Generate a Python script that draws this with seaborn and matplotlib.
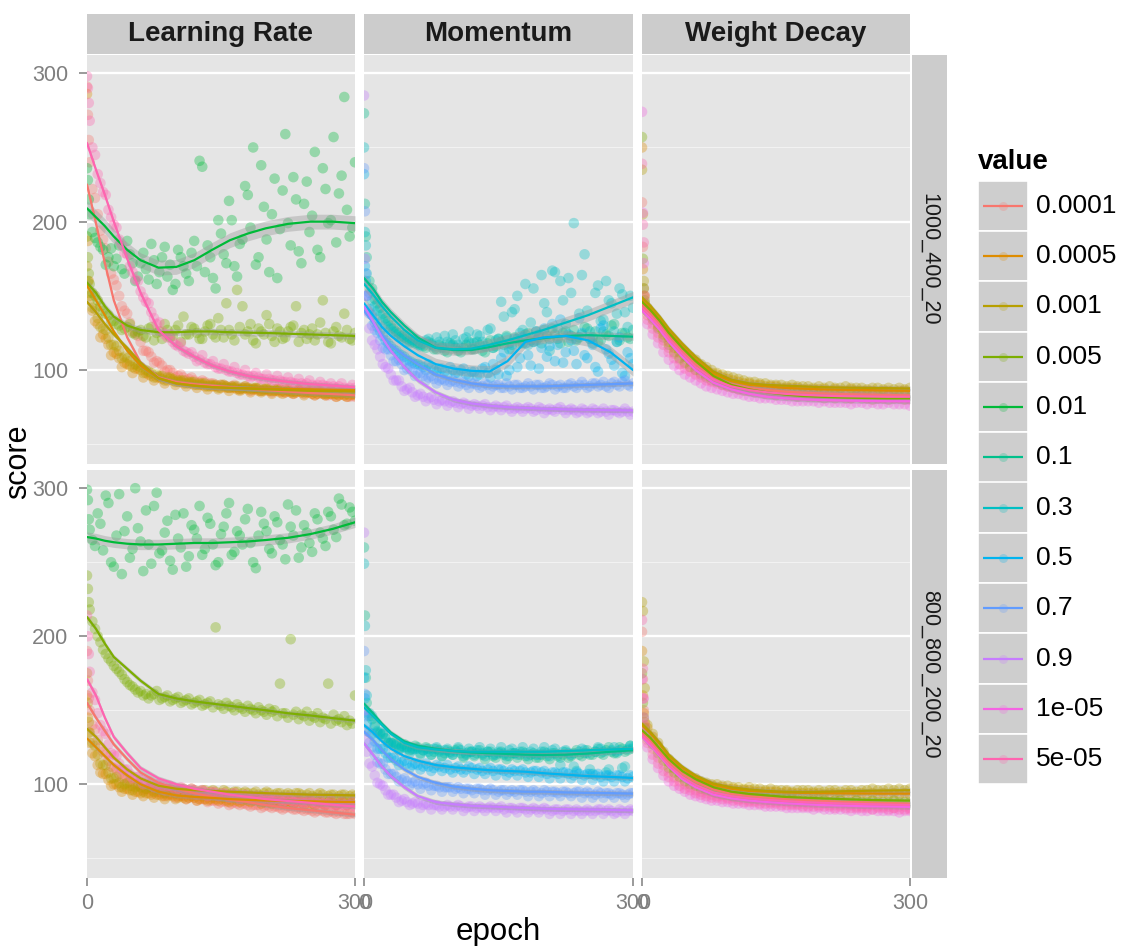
import numpy as np
import pandas as pd
import matplotlib
matplotlib.use("Agg")
import matplotlib.pyplot as plt
from matplotlib.patches import Rectangle
import seaborn as sns

# ---------------------------------------------------------------- data
PARAMS = ["Learning Rate", "Momentum", "Weight Decay"]
NETS = ["1000_400_20", "800_800_200_20"]

LEVELS = ["0.0001", "0.0005", "0.001", "0.005", "0.01", "0.1", "0.3",
          "0.5", "0.7", "0.9", "1e-05", "5e-05"]
COLORS = ["#F8766D", "#DE8C00", "#B79F00", "#7CAE00", "#00BA38", "#00C08B",
          "#00BFC4", "#00B4F0", "#619CFF", "#C77CFF", "#F564E3", "#FF64B0"]

# epochs at which scores were logged, plus the in-between logging epochs
EPOCHS = [0, 1, 2, 3] + list(range(6, 301, 6))
EXTRA_EPOCHS = list(range(9, 300, 6))
# epochs of the smoothed trend
FIT_EPOCHS = [0, 10, 20, 30, 45, 60, 80, 100, 120, 140, 160, 180, 200, 225, 250, 275, 300]

# ---- 1000_400_20 / Learning Rate
LR_A_POINTS = {
    "0.0001": [291, 272, 255, 240,
               222, 205, 188, 173, 161, 150, 140, 132, 125, 119,
               113, 109, 106, 103, 100, 98, 96, 95, 94, 93,
               92, 92, 91, 90, 90, 89, 89, 88, 88, 88,
               87, 87, 87, 86, 86, 86, 85, 85, 85, 85,
               85, 84, 84, 84, 83, 83, 83, 83, 82, 82],
    "0.0005": [286, 187, 160, 150,
               140, 131, 124, 117, 112, 108, 105, 103, 101, 100,
               98, 96, 95, 94, 93, 93, 92, 91, 91, 90,
               90, 89, 89, 89, 88, 88, 88, 87, 87, 87,
               87, 86, 86, 86, 86, 85, 85, 85, 85, 85,
               85, 84, 84, 84, 84, 84, 83, 83, 83, 83],
    "0.001": [170, 160, 152, 147,
              142, 135, 128, 122, 117, 113, 109, 106, 104, 102,
              100, 98, 97, 96, 95, 94, 93, 93, 92, 92,
              91, 91, 90, 90, 90, 89, 89, 89, 88, 88,
              88, 88, 87, 87, 87, 87, 87, 86, 86, 86,
              86, 86, 86, 85, 85, 85, 85, 85, 85, 84],
    "0.005": [190, 176, 165, 158,
              152, 147, 140, 137, 133, 130, 128, 131, 124, 127,
              122, 129, 125, 121, 127, 123, 130, 136, 124, 128,
              121, 126, 131, 122, 127, 145, 124, 154, 143, 126,
              120, 128, 124, 131, 119, 126, 122, 129, 143, 125,
              121, 128, 124, 147, 119, 126, 123, 138, 121, 125],
    "0.01": [236, 228, 215, 205,
             193, 186, 181, 176, 170, 184, 165, 178, 160, 172,
             168, 185, 158, 176, 163, 154, 181, 170, 160, 187,
             241, 166, 176, 155, 192, 172, 201, 163, 188, 218,
             250, 176, 210, 166, 229, 195, 259, 184, 215, 172,
             227, 204, 181, 236, 199, 257, 219, 284, 190, 240],
    "5e-05": [298, 290, 280, 268,
              250, 232, 220, 208, 198, 188, 179, 170, 161, 153,
              146, 139, 131, 126, 122, 119, 116, 113, 111, 109,
              107, 105, 104, 102, 101, 100, 99, 98, 97, 96,
              96, 95, 94, 94, 93, 93, 92, 92, 91, 91,
              91, 90, 90, 90, 89, 89, 89, 88, 88, 88],
}
LR_A_EXTRA = {
    "0.0001": [216, 194, 182, 165, 157, 143, 138, 126, 123,
               113, 112, 105, 105, 99, 100, 95, 97, 93, 95,
               91, 93, 90, 91, 89, 90, 88, 90, 87, 89,
               86, 88, 86, 87, 85, 87, 85, 86, 84, 86,
               84, 85, 83, 85, 83, 84, 82, 84, 82, 83],
    "0.0005": [133, 122, 121, 110, 111, 102, 104, 98, 101,
               95, 97, 93, 95, 91, 94, 90, 92, 89, 91,
               88, 90, 87, 89, 87, 89, 86, 88, 86, 88,
               85, 87, 85, 87, 84, 86, 84, 86, 84, 86,
               83, 85, 83, 85, 83, 84, 82, 84, 82, 84],
    "0.001": [141, 129, 127, 117, 116, 108, 108, 102, 103,
              98, 99, 95, 96, 93, 95, 92, 93, 91, 92,
              90, 91, 89, 90, 88, 90, 88, 89, 87, 89,
              87, 88, 86, 88, 86, 87, 86, 87, 85, 87,
              85, 86, 85, 86, 84, 86, 84, 85, 84, 85],
    "0.005": [150, 143, 138, 133, 131, 127, 129, 125, 126,
              123, 128, 120, 126, 131, 122, 127, 119, 124, 129,
              125, 121, 130, 124, 135, 122, 127, 120, 129, 124,
              131, 118, 126, 137, 123, 128, 121, 126, 130, 119,
              127, 124, 120, 132, 125, 118, 129, 122, 127, 120],
    "0.01": [189, 183, 171, 182, 175, 168, 187, 172, 163,
             179, 161, 174, 166, 183, 171, 158, 176, 165, 179,
             170, 237, 184, 162, 201, 178, 214, 170, 185, 224,
             196, 171, 238, 188, 205, 162, 221, 199, 230, 180,
             212, 193, 247, 176, 222, 201, 186, 231, 208, 196],
    "5e-05": [245, 226, 218, 203, 196, 184, 178, 166, 160,
              149, 145, 135, 132, 124, 124, 117, 118, 112, 112,
              106, 110, 104, 106, 101, 104, 99, 102, 97, 100,
              95, 98, 94, 97, 93, 96, 92, 95, 91, 94,
              90, 93, 89, 92, 89, 91, 88, 91, 87, 90],
}
LR_A_FIT = {
    "0.0001": [225, 199, 172, 147, 122, 105, 95, 92, 90.5, 89.5, 88.5, 87.5, 86.5, 85.5, 84.5, 83.8, 83],
    "0.0005": [157, 147, 137, 126, 113, 103, 94.5, 91, 89.5, 88.5, 88, 87.8, 87.5, 87.2, 87, 86.7, 86.5],
    "0.001": [146, 139, 131, 124, 115, 105, 94.5, 91, 89.5, 88.5, 88, 87.5, 87, 86.5, 86, 85.8, 85.5],
    "0.005": [159, 152, 143, 136, 130, 127, 125.5, 125.5, 126, 126, 125.5, 125.2, 125, 124.5, 124, 123.5, 123],
    "0.01": [209, 203, 197, 190, 181, 174, 169, 169.5, 174, 181, 187.5, 192, 195.5, 198.5, 200, 200, 199],
    "5e-05": [253, 235, 218, 200, 175, 152, 127, 116, 109, 103, 99, 96, 94, 92, 90.5, 89.5, 88.5],
}

# ---- 1000_400_20 / Momentum
MOM_A_POINTS = {
    "0.1": [273, 212, 190, 176,
            160, 148, 142, 135, 130, 126, 123, 121, 119, 118,
            116, 119, 114, 117, 113, 118, 115, 112, 117, 114,
            119, 113, 118, 115, 121, 117, 114, 122, 118, 124,
            120, 126, 118, 123, 128, 121, 125, 119, 127, 122,
            129, 121, 126, 120, 124, 130, 119, 125, 122, 127],
    "0.3": [250, 193, 184, 165,
            152, 143, 137, 131, 128, 124, 121, 119, 120, 117,
            118, 121, 116, 119, 123, 117, 120, 115, 122, 118,
            124, 119, 127, 115, 121, 136, 118, 141, 125, 158,
            132, 120, 164, 139, 167, 128, 147, 162, 199, 138,
            178, 126, 152, 133, 160, 145, 138, 151, 129, 142],
    "0.5": [232, 170, 160, 150,
            141, 132, 126, 120, 116, 113, 110, 107, 105, 104,
            102, 104, 100, 101, 99, 102, 98, 100, 97, 99,
            96, 101, 98, 104, 97, 112, 100, 121, 108, 118,
            103, 126, 115, 109, 131, 117, 105, 124, 113, 135,
            110, 121, 102, 128, 114, 107, 119, 98, 112, 104],
    "0.7": [236, 207, 165, 150,
            138, 127, 120, 114, 110, 106, 104, 101, 99, 98,
            96, 95, 94, 93, 93, 92, 92, 91, 90, 91,
            90, 89, 90, 89, 90, 88, 89, 90, 88, 89,
            89, 90, 88, 89, 90, 89, 88, 90, 89, 90,
            90, 89, 91, 90, 89, 91, 90, 92, 90, 91],
    "0.9": [285, 175, 150, 140,
            128, 117, 109, 102, 97, 93, 89, 87, 85, 83,
            82, 81, 80, 79, 79, 78, 78, 77, 77, 76,
            76, 76, 75, 75, 75, 75, 74, 74, 74, 74,
            74, 73, 74, 73, 73, 74, 73, 73, 73, 72,
            73, 72, 73, 72, 72, 73, 72, 72, 72, 72],
}
MOM_A_EXTRA = {
    "0.1": [155, 145, 138, 133, 128, 125, 122, 120, 118,
            117, 115, 118, 114, 116, 112, 117, 113, 115, 119,
            114, 117, 112, 120, 116, 119, 123, 117, 121, 118,
            125, 119, 122, 127, 121, 124, 118, 126, 123, 120,
            124, 128, 122, 119, 126, 123, 131, 120, 125, 121],
    "0.3": [147, 140, 134, 129, 126, 122, 124, 118, 121,
            116, 120, 117, 122, 115, 119, 124, 117, 121, 126,
            118, 123, 116, 128, 120, 146, 122, 139, 150, 127,
            117, 155, 124, 145, 113, 166, 160, 131, 152, 121,
            164, 140, 118, 157, 134, 147, 126, 155, 139, 150],
    "0.5": [137, 129, 123, 118, 114, 111, 109, 106, 104,
            103, 100, 102, 99, 101, 97, 100, 98, 101, 96,
            99, 97, 102, 95, 100, 108, 96, 114, 102, 122,
            110, 119, 101, 128, 116, 106, 134, 112, 120, 104,
            125, 108, 117, 99, 130, 111, 103, 122, 96, 108],
    "0.7": [130, 125, 115, 114, 106, 107, 100, 102, 96,
            98, 93, 96, 91, 94, 90, 93, 89, 92, 88,
            91, 88, 91, 87, 90, 88, 91, 87, 90, 88,
            91, 87, 90, 88, 91, 87, 90, 88, 91, 88,
            92, 88, 91, 89, 92, 88, 92, 89, 93, 89],
    "0.9": [120, 114, 104, 101, 93, 93, 86, 88, 82,
            84, 79, 82, 77, 80, 76, 79, 75, 78, 74,
            77, 74, 77, 73, 76, 73, 76, 72, 75, 72,
            75, 72, 75, 71, 74, 72, 75, 71, 74, 71,
            74, 71, 74, 71, 74, 70, 73, 71, 74, 70],
}
MOM_A_FIT = {
    "0.1": [162, 155, 146, 139, 130, 122, 115, 113.5, 113.5, 115.5, 118, 120, 121.5, 123, 123.5, 123, 122.5],
    "0.3": [158, 151, 143, 136, 127, 120, 115, 114, 114.5, 117, 120, 123.5, 127, 132, 137, 143, 149],
    "0.5": [145, 137, 129, 123, 116, 110, 104, 101, 99.5, 99, 106, 119, 122, 123, 120, 112, 100],
    "0.7": [140, 132, 124, 117, 110, 104, 97, 93.5, 91, 89.5, 89, 89, 89, 89.5, 90, 90.5, 91],
    "0.9": [143, 133, 122, 113, 102, 93, 85, 80, 77.5, 76, 75, 74.5, 74, 73.5, 73.2, 73, 72.8],
}

# ---- 1000_400_20 / Weight Decay
WD_A_POINTS = {
    "0.0001": [213, 183, 155, 145,
               137, 131, 125, 120, 115, 111, 107, 104, 102, 100,
               98, 96, 95, 93, 92, 91, 90, 89, 89, 88,
               88, 87, 87, 86, 86, 86, 85, 85, 85, 85,
               85, 84, 84, 84, 84, 84, 84, 83, 84, 83,
               83, 83, 84, 83, 83, 83, 82, 83, 83, 82],
    "0.0005": [250, 168, 150, 145,
               140, 135, 129, 124, 119, 115, 112, 109, 106, 104,
               102, 100, 98, 97, 95, 94, 93, 92, 91, 91,
               90, 90, 89, 89, 89, 88, 88, 88, 88, 87,
               87, 87, 87, 87, 86, 87, 86, 86, 87, 86,
               86, 86, 86, 85, 86, 86, 85, 86, 86, 85],
    "0.001": [235, 205, 160, 150,
              142, 137, 131, 126, 122, 118, 115, 112, 109, 107,
              104, 102, 100, 98, 97, 96, 95, 94, 93, 92,
              92, 91, 91, 90, 90, 90, 89, 90, 89, 89,
              89, 88, 89, 88, 89, 88, 88, 89, 88, 88,
              88, 87, 88, 88, 87, 88, 87, 88, 87, 88],
    "0.005": [257, 175, 155, 147,
              140, 134, 128, 122, 117, 112, 108, 105, 102, 100,
              97, 95, 93, 92, 90, 89, 88, 87, 86, 86,
              85, 85, 84, 84, 83, 84, 83, 83, 82, 83,
              82, 82, 82, 81, 82, 81, 82, 81, 81, 82,
              81, 81, 80, 81, 81, 80, 81, 81, 80, 81],
    "1e-05": [274, 206, 172, 143,
              131, 124, 118, 112, 107, 103, 100, 97, 95, 93,
              91, 89, 88, 87, 86, 85, 84, 84, 83, 82,
              82, 81, 81, 81, 80, 80, 80, 79, 79, 79,
              79, 79, 78, 79, 78, 78, 78, 78, 77, 78,
              78, 77, 78, 77, 77, 78, 77, 77, 77, 76],
    "5e-05": [239, 198, 186, 150,
              134, 128, 122, 117, 112, 108, 104, 101, 99, 97,
              95, 93, 92, 91, 90, 89, 88, 87, 87, 86,
              86, 85, 85, 85, 84, 84, 84, 83, 83, 83,
              83, 83, 82, 83, 82, 82, 82, 82, 81, 82,
              82, 81, 82, 81, 81, 82, 81, 81, 81, 80],
}
WD_A_FIT = {
    "0.0001": [144, 138, 131, 123, 113, 104, 95, 90.5, 88, 86.5, 85.5, 84.8, 84.3, 83.8, 83.5, 83.2, 83],
    "0.0005": [147, 141, 134, 126, 116, 107, 97.5, 92.5, 90, 89, 88, 87.5, 87, 86.7, 86.5, 86.2, 86],
    "0.001": [149, 143, 136, 128, 118, 109, 99, 93.5, 91, 90, 89.5, 89, 88.5, 88.2, 88, 87.8, 87.6],
    "0.005": [146, 140, 133, 125, 115, 106, 96, 90, 87, 85, 83.5, 82.5, 82, 81.5, 81.2, 81, 81],
    "1e-05": [140, 134, 127, 119, 109, 100, 91.5, 87, 84, 82, 81, 80.3, 79.8, 79.5, 79.2, 79, 79],
    "5e-05": [142, 136, 129, 121, 111, 102, 93.5, 89, 86.5, 85, 84, 83.3, 82.8, 82.4, 82.2, 82, 82],
}

# ---- 800_800_200_20 / Learning Rate
LR_B_POINTS = {
    "0.0001": [190, 170, 158, 150,
               140, 130, 122, 116, 111, 107, 104, 102, 100, 98,
               97, 96, 95, 94, 93, 93, 92, 92, 91, 91,
               90, 90, 89, 89, 88, 88, 87, 87, 87, 86,
               86, 86, 85, 85, 85, 84, 84, 84, 83, 83,
               83, 82, 82, 82, 81, 81, 81, 80, 80, 80],
    "0.0005": [160, 145, 135, 128,
               121, 113, 107, 103, 100, 98, 97, 96, 95, 94,
               94, 93, 93, 92, 92, 92, 91, 91, 91, 91,
               90, 90, 90, 90, 90, 89, 89, 89, 89, 89,
               89, 89, 88, 88, 88, 88, 88, 88, 88, 88,
               88, 87, 88, 87, 88, 87, 87, 88, 87, 87],
    "0.001": [175, 155, 142, 135,
              128, 120, 113, 108, 104, 101, 100, 99, 98, 98,
              97, 98, 97, 96, 97, 96, 96, 97, 95, 96,
              95, 96, 95, 95, 94, 95, 94, 95, 94, 94,
              94, 93, 94, 94, 93, 94, 93, 93, 94, 93,
              93, 92, 93, 93, 92, 93, 92, 93, 92, 92],
    "0.005": [241, 232, 223, 218,
              210, 200, 191, 185, 180, 176, 171, 167, 164, 163,
              161, 160, 163, 158, 160, 157, 159, 156, 158, 155,
              157, 154, 156, 206, 153, 155, 152, 154, 151, 153,
              150, 152, 149, 151, 150, 168, 148, 198, 149, 147,
              149, 146, 148, 145, 168, 147, 144, 146, 143, 160],
    "0.01": [299, 292, 279, 272,
             265, 283, 258, 290, 247, 296, 271, 253, 300, 264,
             285, 249, 297, 258, 278, 245, 266, 283, 254, 272,
             288, 259, 276, 248, 269, 283, 255, 271, 262, 286,
             250, 268, 276, 259, 281, 265, 252, 274, 285, 260,
             270, 257, 279, 266, 284, 272, 293, 275, 287, 278],
    "5e-05": [214, 200, 188, 176,
              162, 148, 136, 127, 120, 114, 110, 107, 105, 103,
              102, 101, 100, 99, 99, 98, 97, 97, 96, 96,
              95, 95, 94, 94, 93, 93, 93, 92, 92, 91,
              91, 91, 90, 90, 90, 89, 89, 89, 88, 88,
              88, 88, 87, 87, 87, 86, 86, 86, 86, 85],
}
LR_B_EXTRA = {
    "0.0001": [137, 125, 120, 112, 110, 104, 104, 99, 100,
               96, 97, 94, 95, 92, 94, 91, 93, 90, 92,
               89, 90, 88, 89, 87, 89, 86, 88, 86, 87,
               85, 86, 84, 86, 84, 85, 83, 85, 83, 84,
               82, 83, 81, 83, 81, 82, 80, 82, 80, 81],
    "0.0005": [119, 108, 107, 99, 100, 95, 97, 93, 95,
               92, 94, 91, 93, 90, 93, 90, 92, 90, 92,
               89, 92, 89, 91, 89, 91, 88, 91, 88, 90,
               88, 90, 87, 90, 87, 89, 87, 89, 87, 89,
               86, 89, 86, 88, 86, 88, 86, 88, 86, 88],
    "0.001": [126, 114, 113, 104, 105, 98, 101, 96, 99,
              95, 98, 95, 98, 94, 97, 94, 97, 94, 97,
              93, 96, 93, 96, 93, 96, 92, 95, 92, 95,
              92, 95, 92, 95, 91, 94, 91, 94, 91, 94,
              91, 94, 91, 94, 90, 93, 90, 93, 90, 93],
    "0.005": [205, 196, 188, 183, 178, 174, 169, 166, 162,
              160, 158, 161, 157, 159, 156, 158, 155, 157, 154,
              156, 153, 155, 152, 154, 151, 153, 150, 152, 149,
              151, 148, 150, 147, 149, 146, 148, 145, 147, 144,
              146, 143, 145, 142, 144, 141, 143, 142, 140, 141],
    "0.01": [261, 276, 295, 250, 268, 242, 281, 259, 273,
             244, 262, 288, 256, 270, 251, 282, 260, 247, 275,
             266, 255, 280, 262, 250, 274, 290, 257, 268, 279,
             263, 246, 284, 271, 256, 277, 262, 289, 268, 253,
             275, 263, 283, 270, 261, 281, 267, 289, 276, 284],
    "5e-05": [157, 140, 134, 121, 119, 110, 110, 104, 105,
              100, 102, 98, 100, 96, 99, 95, 98, 94, 97,
              93, 96, 92, 95, 92, 94, 91, 94, 90, 93,
              90, 92, 89, 92, 89, 91, 88, 91, 88, 90,
              87, 90, 87, 89, 86, 89, 86, 88, 86, 88],
}
LR_B_FIT = {
    "0.0001": [155, 145, 136, 127, 117, 108, 101, 97, 94, 91.5, 89.5, 88, 86, 84, 82.5, 81, 79.5],
    "0.0005": [131, 125, 119, 113, 106, 100, 95, 92.5, 91.5, 90.8, 90, 89.5, 89, 88.8, 88.5, 88.2, 88],
    "0.001": [137.5, 132, 125, 118, 110, 104, 99, 97, 96, 95.5, 95, 94.5, 94, 93.5, 93, 92.8, 92.5],
    "0.005": [213, 205, 195, 186, 178, 170, 161, 158, 156, 154.5, 153, 151.5, 150, 148, 146.5, 144.7, 143],
    "0.01": [267, 266, 264.5, 263.5, 262.5, 262, 262, 262.5, 263, 263, 263.5, 264, 265, 266.5, 269, 272.5, 277],
    "5e-05": [171, 160, 145, 132, 121, 111, 104, 100, 97, 95, 93, 91.5, 90, 88.7, 87.5, 86.2, 85],
}

# ---- 800_800_200_20 / Momentum
MOM_B_POINTS = {
    "0.1": [260, 214, 172, 155,
            146, 139, 134, 131, 128, 127, 126, 125, 124, 125,
            123, 124, 122, 123, 121, 122, 123, 121, 120, 122,
            121, 120, 122, 119, 121, 120, 119, 121, 120, 119,
            120, 118, 120, 119, 121, 119, 120, 118, 121, 120,
            121, 120, 122, 121, 123, 122, 121, 124, 123, 124],
    "0.3": [249, 207, 177, 160,
            148, 140, 135, 131, 128, 126, 125, 124, 123, 124,
            123, 122, 124, 122, 123, 121, 122, 123, 121, 122,
            123, 121, 122, 120, 122, 121, 123, 121, 122, 121,
            122, 120, 122, 121, 123, 120, 122, 121, 112, 122,
            123, 110, 122, 124, 108, 123, 122, 111, 124, 125],
    "0.5": [172, 158, 148, 141,
            135, 129, 124, 121, 118, 116, 115, 114, 113, 113,
            112, 112, 111, 112, 111, 110, 111, 110, 110, 111,
            110, 109, 110, 109, 110, 109, 108, 109, 109, 108,
            108, 109, 108, 107, 108, 107, 108, 107, 106, 107,
            106, 107, 106, 105, 106, 105, 106, 105, 104, 105],
    "0.7": [190, 161, 146, 136,
            128, 120, 114, 110, 107, 105, 103, 102, 101, 100,
            100, 99, 99, 98, 98, 98, 97, 97, 97, 96,
            97, 96, 96, 96, 95, 96, 95, 95, 96, 95,
            95, 95, 94, 95, 95, 94, 95, 94, 94, 95,
            94, 94, 93, 94, 94, 93, 94, 93, 93, 94],
    "0.9": [270, 150, 130, 122,
            114, 106, 100, 96, 93, 91, 89, 88, 87, 87,
            86, 86, 86, 85, 85, 85, 85, 85, 84, 85,
            84, 84, 84, 84, 84, 83, 84, 83, 84, 83,
            83, 83, 83, 83, 82, 83, 82, 83, 82, 82,
            82, 82, 82, 83, 82, 82, 81, 82, 82, 82],
}
MOM_B_EXTRA = {
    "0.1": [144, 135, 134, 128, 128, 124, 127, 123, 126,
            121, 125, 120, 124, 119, 123, 120, 124, 118, 122,
            119, 123, 117, 122, 118, 122, 117, 121, 118, 122,
            117, 121, 118, 122, 117, 121, 118, 122, 119, 123,
            119, 123, 120, 124, 120, 125, 121, 125, 122, 126],
    "0.3": [146, 136, 134, 128, 127, 123, 125, 121, 124,
            120, 124, 120, 125, 119, 124, 120, 125, 119, 124,
            120, 125, 119, 124, 120, 125, 119, 124, 120, 125,
            119, 124, 120, 125, 119, 124, 113, 123, 120, 109,
            124, 121, 107, 125, 122, 110, 125, 123, 112, 126],
    "0.5": [134, 124, 124, 118, 118, 113, 116, 111, 114,
            110, 114, 109, 113, 109, 113, 108, 112, 108, 112,
            107, 111, 107, 111, 106, 110, 106, 110, 106, 110,
            105, 109, 105, 109, 104, 108, 104, 108, 104, 108,
            103, 107, 103, 107, 102, 106, 102, 106, 102, 106],
    "0.7": [125, 115, 114, 107, 107, 102, 104, 99, 102,
            97, 101, 96, 99, 95, 98, 95, 98, 94, 97,
            94, 97, 93, 97, 93, 96, 93, 96, 93, 96,
            92, 96, 92, 96, 92, 95, 92, 95, 92, 95,
            91, 95, 91, 95, 91, 94, 91, 94, 91, 94],
    "0.9": [112, 101, 99, 93, 93, 88, 90, 86, 88,
            84, 87, 83, 86, 83, 86, 83, 86, 82, 85,
            82, 85, 82, 85, 82, 85, 81, 84, 81, 84,
            81, 84, 81, 84, 80, 83, 80, 83, 80, 83,
            80, 83, 80, 83, 80, 83, 80, 83, 80, 83],
}
MOM_B_FIT = {
    "0.1": [154.5, 148, 141, 135, 129, 126, 124, 122.5, 121.5, 121, 120.5, 120, 119.8, 120, 120.8, 122, 123],
    "0.3": [152, 146, 140, 134, 128, 125, 123.5, 122.5, 122, 122, 122, 122, 122, 122.5, 123, 123.5, 124],
    "0.5": [140, 135, 129, 124, 119, 116, 113, 111.5, 110.5, 109.5, 109, 108.5, 107.5, 106.5, 105.5, 105, 104.3],
    "0.7": [135.5, 130, 123, 117, 110, 105, 101, 98.5, 97, 96, 95.5, 95, 95, 94.5, 94.2, 94, 93.7],
    "0.9": [127.5, 120, 112, 105.5, 98, 92, 88, 86.5, 85.5, 85, 84.5, 84, 83.5, 83.2, 83, 82.7, 82.4],
}

# ---- 800_800_200_20 / Weight Decay
WD_B_POINTS = {
    "0.0001": [203, 171, 150, 139,
               130, 124, 118, 113, 108, 105, 102, 100, 98, 96,
               95, 94, 93, 92, 92, 91, 91, 90, 90, 89,
               89, 89, 89, 88, 88, 88, 88, 87, 87, 87,
               87, 87, 86, 87, 86, 86, 86, 86, 86, 85,
               85, 85, 86, 85, 85, 85, 84, 85, 85, 84],
    "0.0005": [190, 160, 148, 142,
               138, 132, 126, 120, 115, 111, 108, 106, 104, 102,
               101, 100, 99, 98, 98, 97, 97, 96, 96, 96,
               95, 95, 95, 95, 95, 94, 95, 94, 94, 94,
               94, 94, 94, 93, 94, 94, 93, 94, 94, 93,
               94, 93, 94, 93, 94, 93, 94, 93, 94, 93],
    "0.001": [223, 217, 183, 165,
              140, 134, 128, 122, 117, 113, 110, 107, 105, 104,
              102, 101, 100, 100, 99, 99, 98, 98, 97, 98,
              97, 97, 96, 97, 96, 96, 96, 95, 96, 96,
              96, 95, 96, 95, 96, 96, 95, 96, 96, 95,
              96, 96, 97, 96, 96, 97, 96, 97, 96, 97],
    "0.005": [175, 155, 145, 138,
              133, 127, 121, 116, 111, 108, 105, 102, 100, 99,
              97, 96, 95, 94, 93, 93, 92, 92, 92, 91,
              91, 91, 91, 90, 90, 90, 90, 90, 89, 89,
              89, 89, 89, 89, 88, 89, 89, 88, 88, 89,
              88, 88, 89, 88, 88, 88, 89, 88, 88, 88],
    "1e-05": [171, 158, 145, 135,
              125, 117, 111, 106, 102, 99, 97, 95, 93, 92,
              91, 90, 89, 89, 88, 88, 87, 87, 87, 86,
              86, 86, 85, 85, 85, 85, 84, 84, 84, 84,
              84, 83, 84, 83, 83, 83, 83, 83, 82, 83,
              82, 82, 83, 82, 82, 82, 82, 81, 82, 82],
    "5e-05": [211, 178, 158, 140,
              128, 120, 114, 109, 105, 102, 99, 97, 96, 94,
              93, 92, 91, 91, 90, 90, 89, 89, 88, 88,
              88, 87, 87, 87, 87, 86, 86, 86, 86, 85,
              85, 85, 85, 85, 85, 84, 85, 84, 84, 84,
              84, 84, 83, 84, 84, 83, 84, 83, 83, 83],
}
WD_B_FIT = {
    "0.0001": [135, 129, 122, 115, 107, 101.5, 96.5, 93.5, 92, 91, 90, 89.3, 88.8, 88.2, 87.8, 87.4, 87],
    "0.0005": [140, 134, 127, 119, 111, 105, 99.5, 97, 95.5, 95, 94.5, 94.2, 94, 93.9, 93.8, 93.7, 93.7],
    "0.001": [141, 135, 128, 120, 112, 106, 100.5, 98, 96.5, 95.5, 95, 94.8, 95, 95.3, 95.6, 95.8, 96],
    "0.005": [136.5, 131, 124, 117, 109, 103.5, 98, 95, 93.5, 92.5, 91.5, 91, 90.5, 90, 89.5, 89.2, 89],
    "1e-05": [132, 126, 119, 112, 103.5, 98, 93, 90.5, 89, 88, 87.2, 86.6, 86, 85.6, 85.2, 85, 84.7],
    "5e-05": [133, 127, 120, 113, 105, 99.5, 94.5, 92, 90.5, 89.5, 88.7, 88, 87.5, 87, 86.6, 86.3, 86],
}

# standard-error half widths of the smoothed trends (default for the rest)
SE_DEFAULT = 1.6
SE_HALF = {
    ("1000_400_20", "Learning Rate", "0.01"): 5.0,
    ("1000_400_20", "Learning Rate", "0.005"): 2.2,
    ("1000_400_20", "Momentum", "0.1"): 2.5,
    ("1000_400_20", "Momentum", "0.3"): 4.0,
    ("1000_400_20", "Momentum", "0.5"): 4.0,
    ("800_800_200_20", "Learning Rate", "0.01"): 3.5,
}

PANELS = {
    ("1000_400_20", "Learning Rate"): (LR_A_POINTS, LR_A_EXTRA, LR_A_FIT),
    ("1000_400_20", "Momentum"): (MOM_A_POINTS, MOM_A_EXTRA, MOM_A_FIT),
    ("1000_400_20", "Weight Decay"): (WD_A_POINTS, {}, WD_A_FIT),
    ("800_800_200_20", "Learning Rate"): (LR_B_POINTS, LR_B_EXTRA, LR_B_FIT),
    ("800_800_200_20", "Momentum"): (MOM_B_POINTS, MOM_B_EXTRA, MOM_B_FIT),
    ("800_800_200_20", "Weight Decay"): (WD_B_POINTS, {}, WD_B_FIT),
}

# ---------------------------------------------------------------- style
sns.set_theme(style="darkgrid")
plt.rcParams["font.family"] = ["Liberation Sans", "DejaVu Sans"]
PALETTE = dict(zip(LEVELS, COLORS))
PANEL_BG = "#E5E5E5"
STRIP_BG = "#CCCCCC"
KEY_BG = "#CECECE"
TICK_GREY = "#7F7F7F"

W, H = 1123, 946
COL_X = [(87, 355), (364, 633), (642, 910)]
ROW_Y = [(55, 464), (470, 878)]


def box(x0, y0, x1, y1):
    """Pixel box (top-left origin) -> figure fraction rect."""
    return [x0 / W, 1 - y1 / H, (x1 - x0) / W, (y1 - y0) / H]


fig = plt.figure(figsize=(W / 100, H / 100), dpi=100)
fig.patch.set_facecolor("white")

for r, net in enumerate(NETS):
    for c, param in enumerate(PARAMS):
        points, extra, fits = PANELS[(net, param)]
        levels = [lv for lv in LEVELS if lv in points]

        frames = []
        for lv in levels:
            frames.append(pd.DataFrame({"epoch": EPOCHS, "score": points[lv], "value": lv}))
            if lv in extra:
                frames.append(pd.DataFrame({"epoch": EXTRA_EPOCHS, "score": extra[lv], "value": lv}))
        pts = pd.concat(frames, ignore_index=True)
        fit_df = pd.concat(
            [pd.DataFrame({"epoch": FIT_EPOCHS, "score": fits[lv], "value": lv}) for lv in levels],
            ignore_index=True)

        ax = fig.add_axes(box(COL_X[c][0], ROW_Y[r][0], COL_X[c][1], ROW_Y[r][1]))
        ax.set_facecolor(PANEL_BG)
        ax.set_axisbelow(True)

        sns.scatterplot(data=pts, x="epoch", y="score", hue="value", hue_order=levels,
                        palette=PALETTE, s=58, alpha=0.34, linewidth=0, legend=False,
                        ax=ax, zorder=2)
        for lv in levels:
            half = SE_HALF.get((net, param, lv), SE_DEFAULT)
            f = np.asarray(fits[lv], dtype=float)
            ax.fill_between(FIT_EPOCHS, f - half, f + half, color="#999999",
                            alpha=0.4, linewidth=0, zorder=2.5)
        sns.lineplot(data=fit_df, x="epoch", y="score", hue="value", hue_order=levels,
                     palette=PALETTE, estimator=None, sort=False, linewidth=1.6,
                     legend=False, ax=ax, zorder=3)

        ax.set_xlim(0, 300)
        ax.set_ylim(36.7, 312.3)
        ax.set_xticks([0, 300])
        ax.set_xticklabels(["0", "300"])
        ax.set_yticks([100, 200, 300])
        ax.set_yticklabels(["100", "200", "300"])
        ax.set_yticks([50, 150, 250], minor=True)
        ax.grid(False)
        ax.yaxis.grid(True, which="major", color="white", linewidth=1.7)
        ax.yaxis.grid(True, which="minor", color="#F2F2F2", linewidth=0.8)
        ax.xaxis.grid(False)
        for sp in ax.spines.values():
            sp.set_visible(False)
        ax.set_xlabel("")
        ax.set_ylabel("")
        ax.tick_params(which="minor", length=0)
        ax.tick_params(axis="y", which="major", length=6, width=1.1, color=TICK_GREY,
                       labelcolor=TICK_GREY, labelsize=15.5, pad=7.5,
                       left=(c == 0), labelleft=(c == 0))
        ax.tick_params(axis="x", which="major", length=6, width=1.1, color=TICK_GREY,
                       labelcolor=TICK_GREY, labelsize=15.5, pad=5,
                       bottom=(r == 1), labelbottom=(r == 1))

# facet strips
for c, param in enumerate(PARAMS):
    sax = fig.add_axes(box(COL_X[c][0], 14, COL_X[c][1], 54))
    sax.set_facecolor(STRIP_BG)
    sax.set_xticks([]); sax.set_yticks([])
    for sp in sax.spines.values():
        sp.set_visible(False)
    sax.text(0.5, 0.5, param, transform=sax.transAxes, ha="center", va="center",
             fontsize=20, fontweight="bold", color="#1A1A1A")
for r, net in enumerate(NETS):
    sax = fig.add_axes(box(912, ROW_Y[r][0], 947, ROW_Y[r][1]))
    sax.set_facecolor(STRIP_BG)
    sax.set_xticks([]); sax.set_yticks([])
    for sp in sax.spines.values():
        sp.set_visible(False)
    sax.text(0.5, 0.5, net, transform=sax.transAxes, ha="center", va="center",
             rotation=-90, fontsize=15.5, color="#1A1A1A")

# axis titles
fig.text(498 / W, 1 - 932 / H, "epoch", ha="center", va="center", fontsize=22.5, color="black")
fig.text(18 / W, 1 - 462 / H, "score", ha="center", va="center", rotation=90,
         fontsize=22, color="black")

# legend
lax = fig.add_axes(box(960, 120, 1123, 800))
lax.set_xlim(960, 1123)
lax.set_ylim(800, 120)
lax.axis("off")
lax.text(978, 169, "value", ha="left", va="baseline", fontsize=20, fontweight="bold",
         color="black")
key_h = 50.3
for i, lv in enumerate(LEVELS):
    y0 = 180.7 + key_h * i
    lax.add_patch(Rectangle((978, y0), 50, key_h, facecolor=KEY_BG, edgecolor="white",
                            linewidth=1.2))
    yc = y0 + key_h / 2
    lax.plot([983, 1023], [yc, yc], color=PALETTE[lv], linewidth=1.6, solid_capstyle="butt")
    lax.plot([1003], [yc], marker="o", markersize=6.5, color=PALETTE[lv], alpha=0.25,
             markeredgewidth=0)
    lax.text(1036, yc, lv, ha="left", va="center", fontsize=19, color="black")

fig.savefig("out.png", dpi=100, facecolor="white")
